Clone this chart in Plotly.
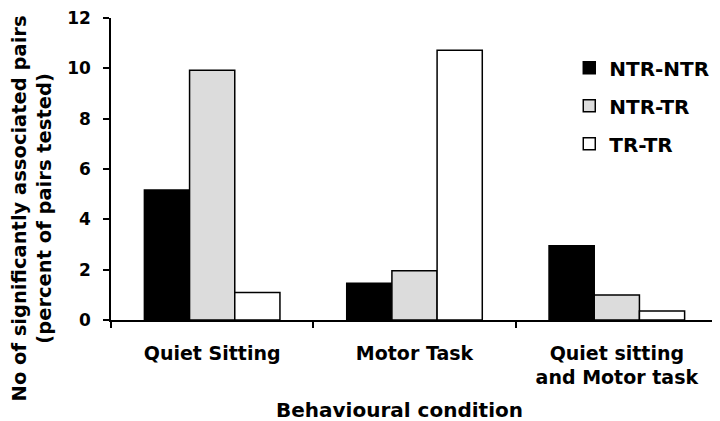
import plotly.graph_objects as go

categories = ["Quiet Sitting", "Motor Task", "Quiet sitting<br>and Motor task"]
series_names = ["NTR-NTR", "NTR-TR", "TR-TR"]
ntr_ntr = [5.17, 1.46, 2.95]
ntr_tr = [9.92, 1.96, 0.99]
tr_tr = [1.09, 10.72, 0.36]
y_ticks = [0, 2, 4, 6, 8, 10, 12]

colors = ["#000000", "#dcdcdc", "#ffffff"]
values = [ntr_ntr, ntr_tr, tr_tr]

FONT = "DejaVu Sans, Liberation Sans, Arial, sans-serif"

fig = go.Figure()
for name, vals, col in zip(series_names, values, colors):
    fig.add_trace(go.Bar(
        x=categories, y=vals, name=name, legendgroup=name,
        marker=dict(color=col, line=dict(color="black", width=1.5)),
    ))

fig.update_layout(
    width=712, height=413,
    margin=dict(l=103, r=2, t=10, b=101),
    paper_bgcolor="white", plot_bgcolor="white",
    barmode="group", bargap=0.33, bargroupgap=0,
    font=dict(family=FONT, color="black"),
    showlegend=True,
    legend=dict(
        x=0.755, y=0.9, xanchor="left", yanchor="top",
        font=dict(size=20, family=FONT, color="black", weight="bold"),
        traceorder="grouped", tracegroupgap=9,
        bgcolor="rgba(0,0,0,0)",
    ),
    xaxis=dict(
        type="category", range=[-0.5, 2.5], automargin=False,
        showline=True, linecolor="black", linewidth=1.5,
        ticks="outside", tickson="boundaries", ticklen=6, tickwidth=1.5, tickcolor="black",
        ticklabelstandoff=15,
        tickfont=dict(size=19, family=FONT, color="black", weight="bold"),
        showgrid=False, zeroline=False,
    ),
    yaxis=dict(
        range=[0, 12], tickvals=y_ticks, automargin=False,
        showline=True, linecolor="black", linewidth=1.5,
        ticks="outside", ticklen=6, tickwidth=1.5, tickcolor="black",
        ticklabelstandoff=9, ticklabeloverflow="allow",
        tickfont=dict(size=17, family=FONT, color="black", weight="bold"),
        showgrid=False, zeroline=False,
    ),
    annotations=[
        dict(text="No of significantly associated pairs<br>(percent of pairs tested)",
             xref="paper", yref="paper", x=-0.131, y=0.371,
             xanchor="center", yanchor="middle", textangle=-90, showarrow=False,
             font=dict(size=19.5, family=FONT, color="black", weight="bold")),
        dict(text="Behavioural condition",
             xref="paper", yref="paper", x=0.476, y=-0.298,
             xanchor="center", yanchor="middle", showarrow=False,
             font=dict(size=20, family=FONT, color="black", weight="bold")),
    ],
)

fig.write_html("out.html")
